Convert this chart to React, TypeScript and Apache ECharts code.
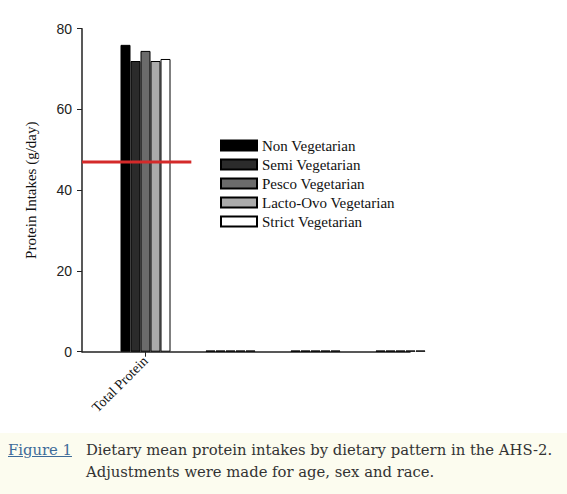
import React, { useEffect, useRef } from 'react';
import * as echarts from 'echarts';

const categories = ['Total Protein', '', '', ''];
const seriesNames = ['Non Vegetarian', 'Semi Vegetarian', 'Pesco Vegetarian', 'Lacto-Ovo Vegetarian', 'Strict Vegetarian'];
const nonVeg = [76, 0.3, 0.3, 0.3];
const semiVeg = [72, 0.3, 0.3, 0.3];
const pescoVeg = [74.5, 0.3, 0.3, 0.3];
const lactoOvoVeg = [72, 0.3, 0.3, 0.3];
const strictVeg = [72.5, 0.3, 0.3, 0.3];
const referenceLevel = 47;
const yTicks = [0, 20, 40, 60, 80];

const barColors = ['#000000', '#2b2b2b', '#6b6b6b', '#ababab', '#ffffff'];

export default function App() {
    const chartRef = useRef<HTMLDivElement>(null);

    useEffect(() => {
        document.body.style.margin = '0';
        if (!chartRef.current) return;
        const chart = echarts.init(chartRef.current, null, { renderer: 'svg' });

        const values = [nonVeg, semiVeg, pescoVeg, lactoOvoVeg, strictVeg];
        const top = 28.7;
        const bottom = 433 - 351.7;

        const option = {
            animation: false,
            legend: {
                data: seriesNames,
                orient: 'vertical',
                icon: 'rect',
                left: 215,
                top: 133,
                itemWidth: 36,
                itemHeight: 10,
                itemGap: 4,
                textStyle: { fontFamily: 'Liberation Serif', fontSize: 15, color: '#111' },
            },
            grid: [
                { left: 82, right: 567 - 410, top, bottom },
                { left: 103, width: 340, top, bottom },
            ],
            xAxis: [
                {
                    type: 'value',
                    gridIndex: 0,
                    min: 0,
                    max: 3,
                    axisLine: { show: true, onZero: false, lineStyle: { color: '#222', width: 1.5 } },
                    axisTick: { show: false },
                    axisLabel: { show: false },
                    splitLine: { show: false },
                },
                {
                    type: 'category',
                    gridIndex: 1,
                    data: categories,
                    axisLine: { show: false },
                    axisTick: {
                        show: true,
                        alignWithLabel: true,
                        length: 5,
                        interval: (index: number) => index === 0,
                        lineStyle: { color: '#222' },
                    },
                    axisLabel: {
                        rotate: 45,
                        margin: 7,
                        interval: 0,
                        fontFamily: 'Liberation Serif',
                        fontSize: 14,
                        color: '#111',
                    },
                },
            ],
            yAxis: [
                {
                    type: 'value',
                    gridIndex: 0,
                    min: yTicks[0],
                    max: yTicks[yTicks.length - 1],
                    interval: 20,
                    name: 'Protein Intakes (g/day)',
                    nameLocation: 'middle',
                    nameGap: 44,
                    nameTextStyle: { fontFamily: 'Liberation Serif', fontSize: 15, color: '#111' },
                    axisLine: { show: true, lineStyle: { color: '#222', width: 1.5 } },
                    axisTick: { show: true, length: 5, lineStyle: { color: '#222' } },
                    axisLabel: { margin: 10, fontFamily: 'Liberation Sans', fontSize: 14, color: '#222' },
                    splitLine: { show: false },
                },
                {
                    type: 'value',
                    gridIndex: 1,
                    min: yTicks[0],
                    max: yTicks[yTicks.length - 1],
                    show: false,
                },
            ],
            series: [
                ...seriesNames.map((name, i) => ({
                    name,
                    type: 'bar',
                    xAxisIndex: 1,
                    yAxisIndex: 1,
                    data: values[i],
                    barWidth: 10,
                    barGap: '0%',
                    itemStyle: { color: barColors[i], borderColor: '#000', borderWidth: 1 },
                })),
                {
                    name: 'reference',
                    type: 'line',
                    xAxisIndex: 0,
                    yAxisIndex: 0,
                    data: [[0, referenceLevel], [1, referenceLevel]],
                    symbol: 'none',
                    lineStyle: { color: '#d42a2a', width: 3 },
                    z: 5,
                },
            ],
        };

        chart.setOption(option);
        return () => chart.dispose();
    }, []);

    return (
        <div style={{ width: 567, height: 494, background: '#fff', position: 'relative' }}>
            <div ref={chartRef} style={{ width: 567, height: 433 }} />
            <div
                style={{
                    position: 'absolute',
                    top: 433,
                    left: 0,
                    width: 567,
                    height: 61,
                    background: '#fcfcef',
                    fontFamily: '"DejaVu Serif", serif',
                    fontSize: 14.8,
                    color: '#333',
                    lineHeight: '22px',
                }}
            >
                <div style={{ position: 'absolute', left: 8, top: 6 }}>
                    <span style={{ color: '#3d6b99', textDecoration: 'underline' }}>Figure 1</span>
                </div>
                <div style={{ position: 'absolute', left: 86, top: 6, whiteSpace: 'nowrap' }}>
                    Dietary mean protein intakes by dietary pattern in the AHS-2.
                    <br />
                    Adjustments were made for age, sex and race.
                </div>
            </div>
        </div>
    );
}
